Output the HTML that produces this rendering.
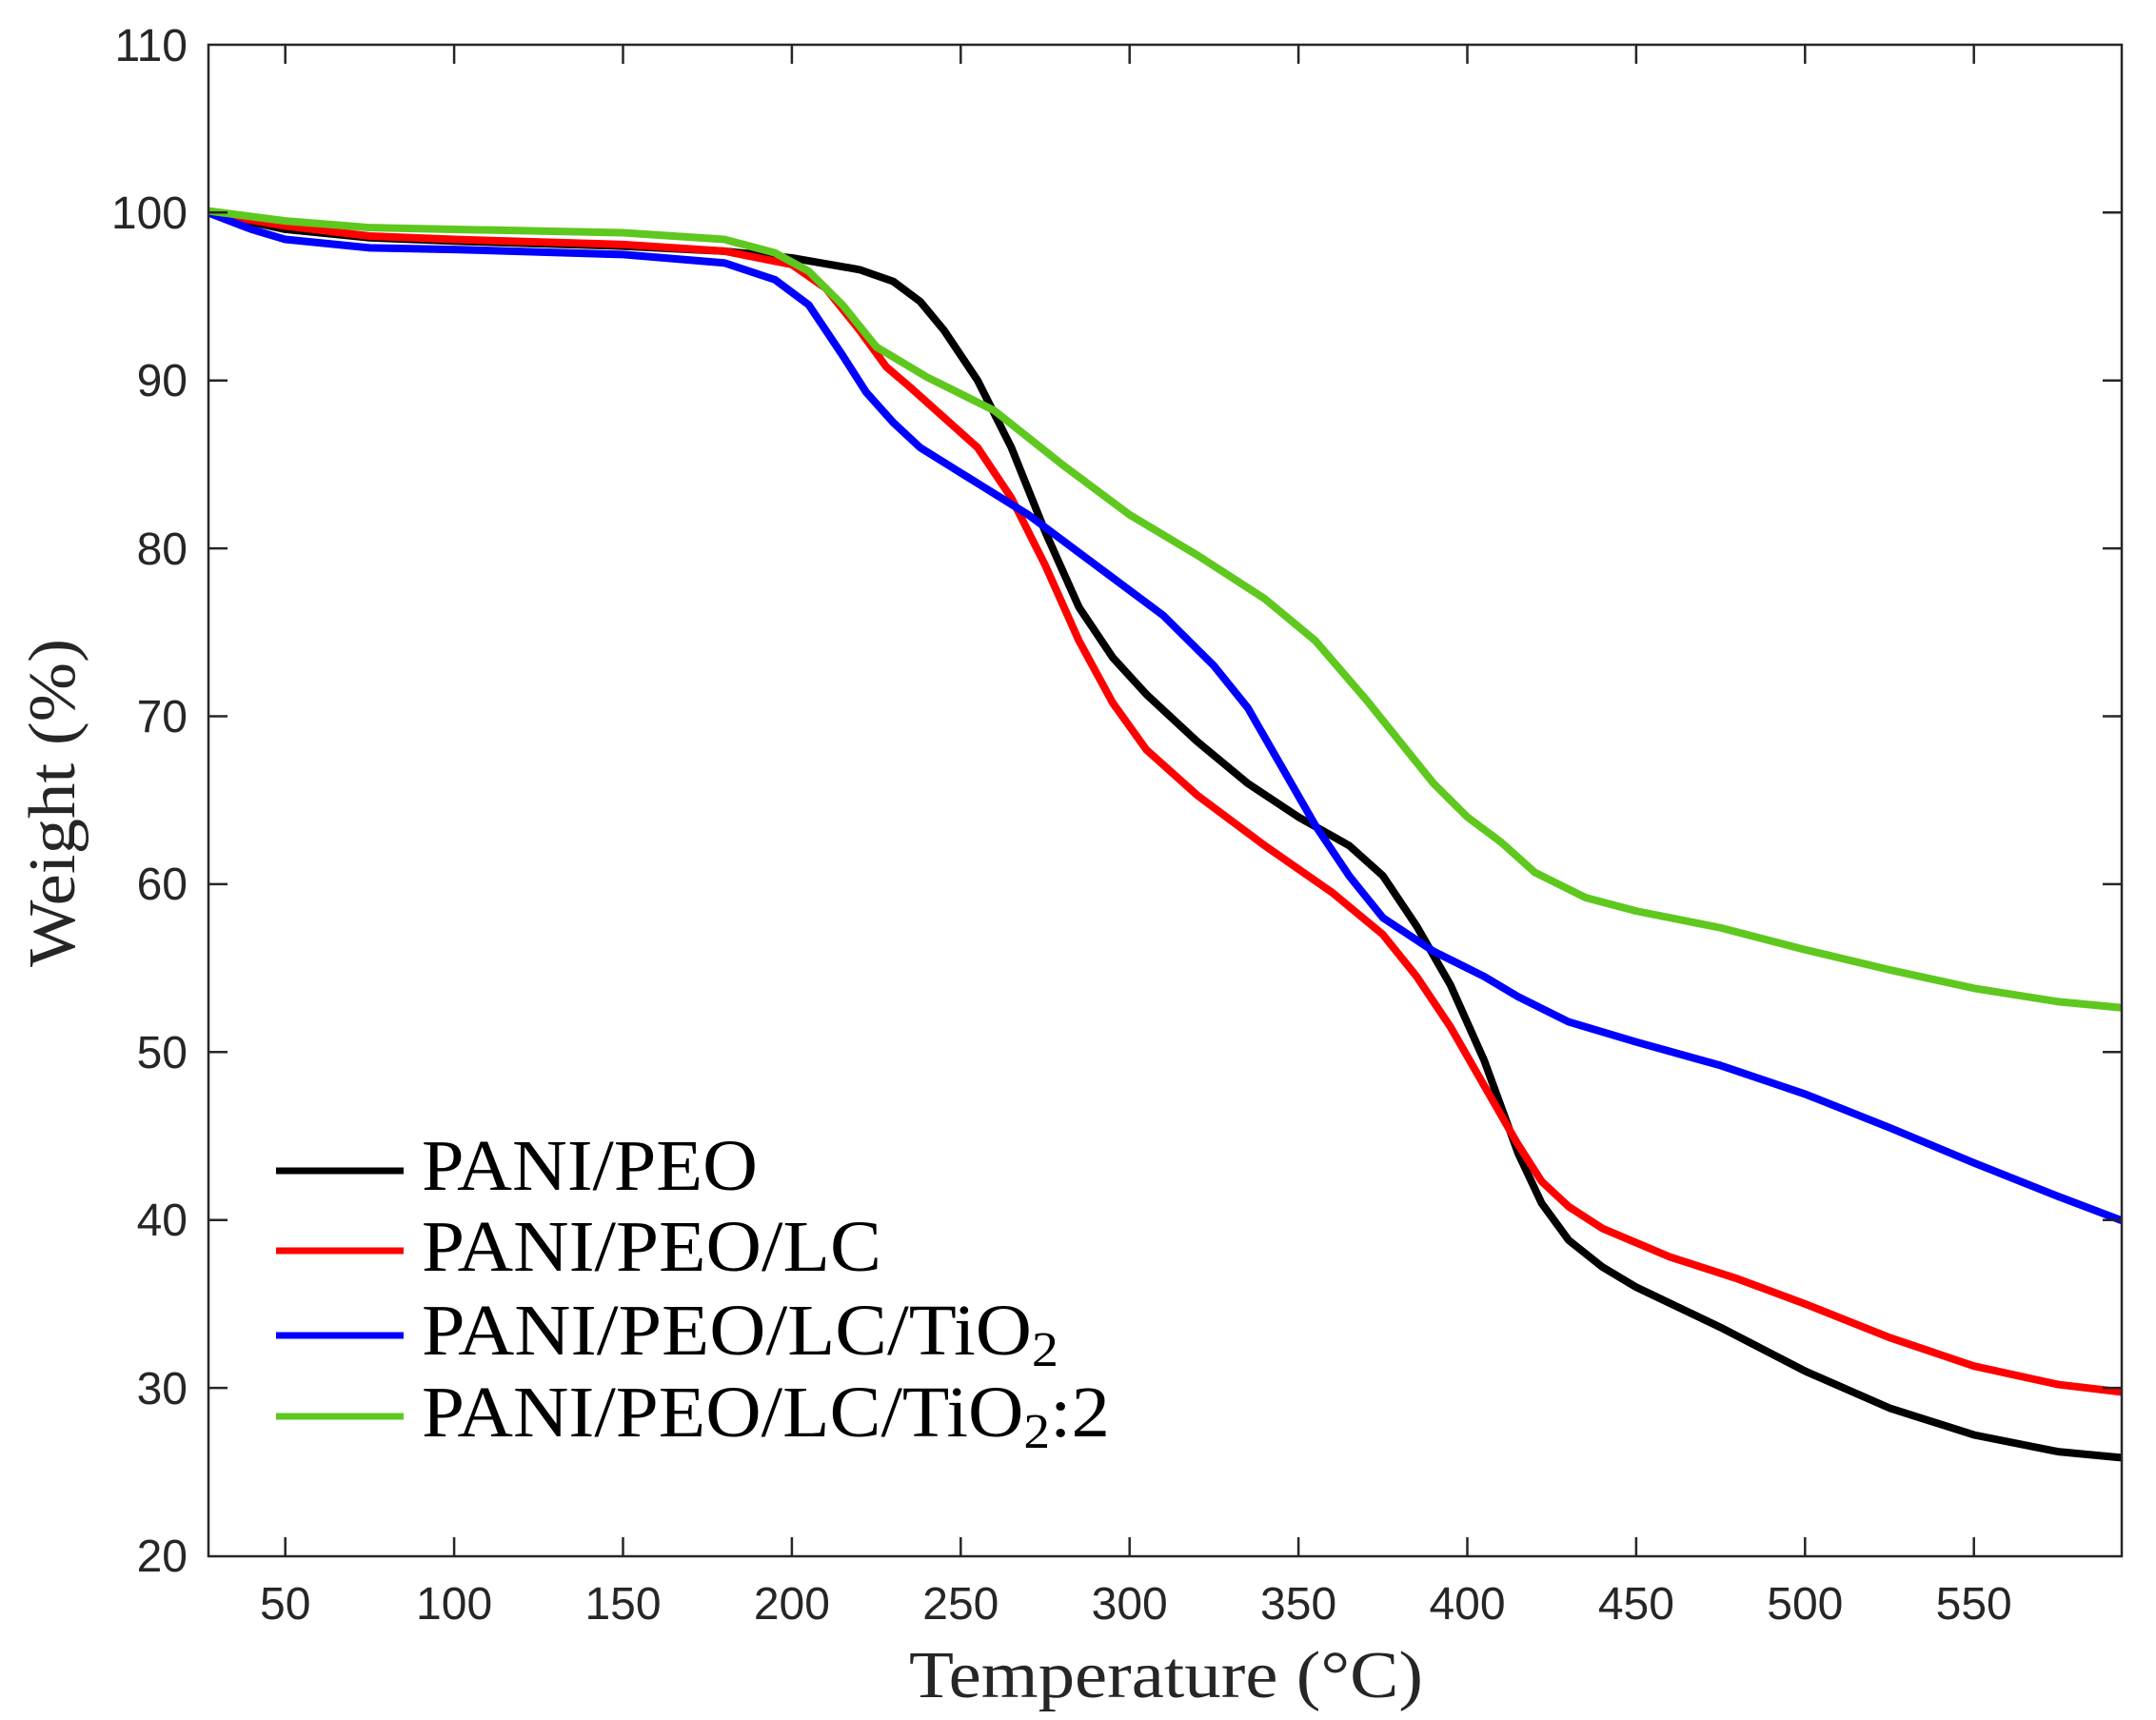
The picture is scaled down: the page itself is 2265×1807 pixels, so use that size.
<!DOCTYPE html>
<html><head><meta charset="utf-8"><style>
html,body{margin:0;padding:0;background:#fff;}
svg{display:block;}
</style></head><body>
<svg width="2265" height="1807" viewBox="0 0 2265 1807" xmlns="http://www.w3.org/2000/svg">
<rect width="2265" height="1807" fill="#fff"/>
<defs><clipPath id="c"><rect x="219" y="47" width="2010" height="1588"/></clipPath></defs>
<g clip-path="url(#c)">
<g transform="matrix(3.548 0 0 -17.64 122.3 1987.3)" fill="none" stroke-width="8" stroke-linejoin="round" stroke-linecap="round">
<polyline vector-effect="non-scaling-stroke" stroke="#000" points="27,100 50,99 75,98.5 100,98.3 150,98 180,97.7 200,97.3 220,96.6 230,95.9 238,94.7 245,93 255,90 265,86 275,81 285,76.5 295,73.5 305,71.3 320,68.5 335,66 350,64 365,62.3 375,60.5 385,57.5 395,54 405,49.5 415,44 422,41 430,38.8 440,37.2 450,36 475,33.6 500,31 525,28.8 550,27.2 575,26.2 596,25.8"/>
<polyline vector-effect="non-scaling-stroke" stroke="#f00" points="27,100 50,99.2 75,98.6 100,98.4 150,98.1 180,97.7 200,96.9 210,95.5 220,93 228,90.8 235,89.6 245,87.8 255,86 265,83 275,79 285,74.5 295,70.8 305,68 320,65.3 340,62.3 360,59.5 375,57 385,54.5 395,51.5 405,48 415,44.5 422,42.3 430,40.8 440,39.5 460,37.8 480,36.5 500,35 525,33 550,31.3 575,30.2 596,29.7"/>
<polyline vector-effect="non-scaling-stroke" stroke="#00f" points="27,100 40,99 50,98.4 75,97.9 100,97.8 150,97.5 180,97 195,96 205,94.5 215,91.5 222,89.3 230,87.5 238,86 250,84.5 270,82 290,79 310,76 325,73 335,70.5 345,67 355,63.5 365,60.5 375,58 390,56 405,54.5 415,53.3 430,51.8 450,50.6 475,49.2 500,47.5 525,45.5 550,43.4 575,41.4 596,39.8"/>
<polyline vector-effect="non-scaling-stroke" stroke="#5ec81e" points="27,100.1 50,99.5 75,99.1 100,99 150,98.8 180,98.4 195,97.6 205,96.5 215,94.5 225,92 240,90.2 260,88.2 280,85 300,82 320,79.6 340,77 355,74.5 370,71 380,68.5 390,66 400,64 410,62.5 420,60.7 435,59.2 450,58.4 475,57.4 500,56.1 525,54.9 550,53.8 575,53 596,52.6"/>
</g></g>
<g stroke="#262626" stroke-width="2.5" fill="none">
<rect x="219" y="47" width="2010" height="1588"/>
<path d="M299.7 1635v-20M477.1 1635v-20M654.5 1635v-20M831.9 1635v-20M1009.3 1635v-20M1186.7 1635v-20M1364.1 1635v-20M1541.5 1635v-20M1718.9 1635v-20M1896.3 1635v-20M2073.7 1635v-20
M299.7 47v20M477.1 47v20M654.5 47v20M831.9 47v20M1009.3 47v20M1186.7 47v20M1364.1 47v20M1541.5 47v20M1718.9 47v20M1896.3 47v20M2073.7 47v20"/>
<path d="M219 1458.1h20M219 1281.7h20M219 1105.3h20M219 928.9h20M219 752.5h20M219 576.1h20M219 399.7h20M219 223.3h20
M2229 1458.1h-20M2229 1281.7h-20M2229 1105.3h-20M2229 928.9h-20M2229 752.5h-20M2229 576.1h-20M2229 399.7h-20M2229 223.3h-20"/>
</g>
<g font-family="Liberation Sans, sans-serif" font-size="48" fill="#262626" text-anchor="end">
<text x="197" y="1651">20</text><text x="197" y="1475">30</text><text x="197" y="1298">40</text><text x="197" y="1122">50</text><text x="197" y="945">60</text><text x="197" y="769">70</text><text x="197" y="593">80</text><text x="197" y="416">90</text><text x="197" y="240">100</text><text x="197" y="64">110</text>
</g>
<g font-family="Liberation Sans, sans-serif" font-size="48" fill="#262626" text-anchor="middle">
<text x="299.7" y="1701">50</text><text x="477.1" y="1701">100</text><text x="654.5" y="1701">150</text><text x="831.9" y="1701">200</text><text x="1009.3" y="1701">250</text><text x="1186.7" y="1701">300</text><text x="1364.1" y="1701">350</text><text x="1541.5" y="1701">400</text><text x="1718.9" y="1701">450</text><text x="1896.3" y="1701">500</text><text x="2073.7" y="1701">550</text>
</g>
<g font-family="Liberation Serif, serif" fill="#262626">
<text x="955" y="1783" font-size="70" textLength="540" lengthAdjust="spacingAndGlyphs">Temperature (°C)</text>
<text transform="translate(78 1016) rotate(-90)" font-size="70" textLength="345" lengthAdjust="spacingAndGlyphs">Weight (%)</text>
</g>
<g stroke-width="7">
<line x1="290" y1="1230" x2="424" y2="1230" stroke="#000"/>
<line x1="290" y1="1314" x2="424" y2="1314" stroke="#f00"/>
<line x1="290" y1="1403" x2="424" y2="1403" stroke="#00f"/>
<line x1="290" y1="1488" x2="424" y2="1488" stroke="#5ec81e"/>
</g>
<g font-family="Liberation Serif, serif" font-size="76" fill="#000">
<text x="443" y="1250" textLength="353" lengthAdjust="spacingAndGlyphs">PANI/PEO</text>
<text x="443" y="1335" textLength="483" lengthAdjust="spacingAndGlyphs">PANI/PEO/LC</text>
<text x="443" y="1423" textLength="669" lengthAdjust="spacingAndGlyphs">PANI/PEO/LC/TiO<tspan font-size="52" dy="12">2</tspan></text>
<text x="443" y="1509" textLength="723" lengthAdjust="spacingAndGlyphs">PANI/PEO/LC/TiO<tspan font-size="52" dy="12">2</tspan><tspan dy="-12">:2</tspan></text>
</g>
</svg>
</body></html>
